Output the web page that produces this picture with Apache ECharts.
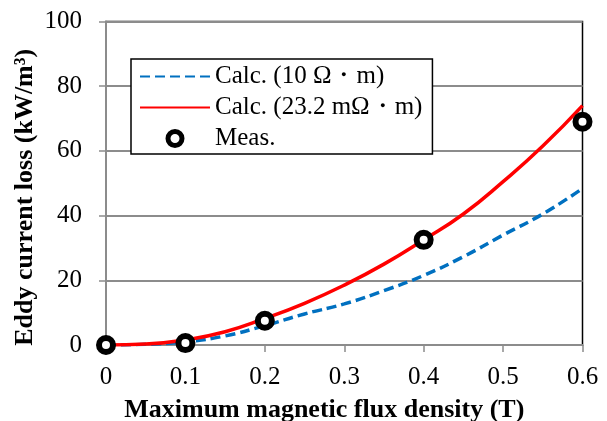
<!DOCTYPE html>
<html>
<head>
<meta charset="utf-8">
<script src="https://cdn.jsdelivr.net/npm/echarts@6/dist/echarts.min.js"></script>
<style>
  html, body { margin: 0; padding: 0; background: #fff; }
  #chart { width: 607px; height: 421px; }
</style>
</head>
<body>
<div id="chart"></div>
<script>
// flux density (T) and loss (kW/m3)
const calcHigh = [
  [0, 0], [0.05, 0.2], [0.1, 1.0], [0.15, 2.8], [0.2, 6.0], [0.25, 9.6], [0.3, 12.7],
  [0.35, 16.8], [0.4, 21.5], [0.45, 27.3], [0.5, 34.0], [0.55, 40.5], [0.6, 48.4]
]
const calcLow = [
  [0, 0], [0.05, 0.3], [0.1, 1.6], [0.15, 4.1], [0.2, 8.2], [0.25, 12.9], [0.3, 18.5],
  [0.35, 25.0], [0.4, 32.5], [0.45, 40.5], [0.5, 50.5], [0.55, 61.5], [0.6, 74.0]
]
const meas = [[0, 0], [0.1, 0.6], [0.2, 7.5], [0.4, 32.5], [0.6, 69.0]]
const names = ['Calc. (10 Ω・m)', 'Calc. (23.2 mΩ・m)', 'Meas.']

const serif = '"Liberation Serif", "Times New Roman", serif'
const chart = echarts.init(document.getElementById('chart'))

const noSymbol = { color: 'rgba(0,0,0,0)', borderWidth: 0 }

const option = {
  animation: false,
  grid: {
    left: 106, top: 21.5, right: 24.5, bottom: 76,
    outerBoundsMode: 'none',
    containLabel: false,
    show: true, borderColor: '#000', borderWidth: 1.5
  },
  legend: {
    orient: 'vertical',
    left: 131, top: 59,
    padding: [5, 10, 3, 8],
    backgroundColor: '#fff',
    borderColor: '#000',
    borderWidth: 1.5,
    borderRadius: 0,
    itemWidth: 70,
    itemHeight: 14,
    itemGap: 6,
    textStyle: { fontFamily: serif, fontSize: 25, color: '#000', padding: [0, 0, 0, 0] },
    data: [
      { name: names[0], itemStyle: noSymbol },
      { name: names[1], itemStyle: noSymbol },
      { name: names[2], icon: 'circle', itemStyle: { color: '#fff', borderColor: '#000', borderWidth: 5 } }
    ]
  },
  xAxis: {
    type: 'value',
    min: 0, max: 0.6, interval: 0.1,
    name: 'Maximum magnetic flux density (T)',
    nameLocation: 'middle',
    nameGap: 52,
    nameMoveOverlap: false,
    nameTextStyle: { fontFamily: serif, fontSize: 26, fontWeight: 'bold', color: '#000', padding: [0, 40, 0, 0] },
    axisLine: { lineStyle: { color: '#8c8c8c', width: 2 } },
    axisTick: { show: true, length: 7, lineStyle: { color: '#8c8c8c', width: 1.5 } },
    axisLabel: { fontFamily: serif, fontSize: 25, color: '#000', margin: 20 },
    splitLine: { show: false }
  },
  yAxis: {
    type: 'value',
    min: 0, max: 100, interval: 20,
    name: 'Eddy current loss (kW/m³)',
    nameLocation: 'middle',
    nameGap: 68,
    nameMoveOverlap: false,
    nameTextStyle: { fontFamily: serif, fontSize: 26, fontWeight: 'bold', color: '#000', padding: [0, 28, 0, 0] },
    axisLine: { show: true, lineStyle: { color: '#8c8c8c', width: 2 } },
    axisTick: { show: true, length: 7, lineStyle: { color: '#8c8c8c', width: 1.5 } },
    axisLabel: { fontFamily: serif, fontSize: 25, color: '#000', margin: 24 },
    splitLine: { show: true, lineStyle: { color: '#8c8c8c', width: 2 } }
  },
  series: [
    {
      name: names[0],
      type: 'line',
      smooth: true,
      symbol: 'none',
      data: calcHigh,
      lineStyle: { color: '#0070c0', width: 3.5, type: [10, 5] },
      itemStyle: { color: '#0070c0' },
      z: 3
    },
    {
      name: names[1],
      type: 'line',
      smooth: true,
      symbol: 'none',
      data: calcLow,
      lineStyle: { color: '#ff0000', width: 3.5 },
      itemStyle: { color: '#ff0000' },
      z: 4
    },
    {
      name: names[2],
      type: 'scatter',
      symbol: 'circle',
      symbolSize: 14,
      data: meas,
      itemStyle: { color: '#fff', borderColor: '#000', borderWidth: 6, opacity: 1 },
      z: 5
    }
  ]
}
chart.setOption(option)
</script>
</body>
</html>
